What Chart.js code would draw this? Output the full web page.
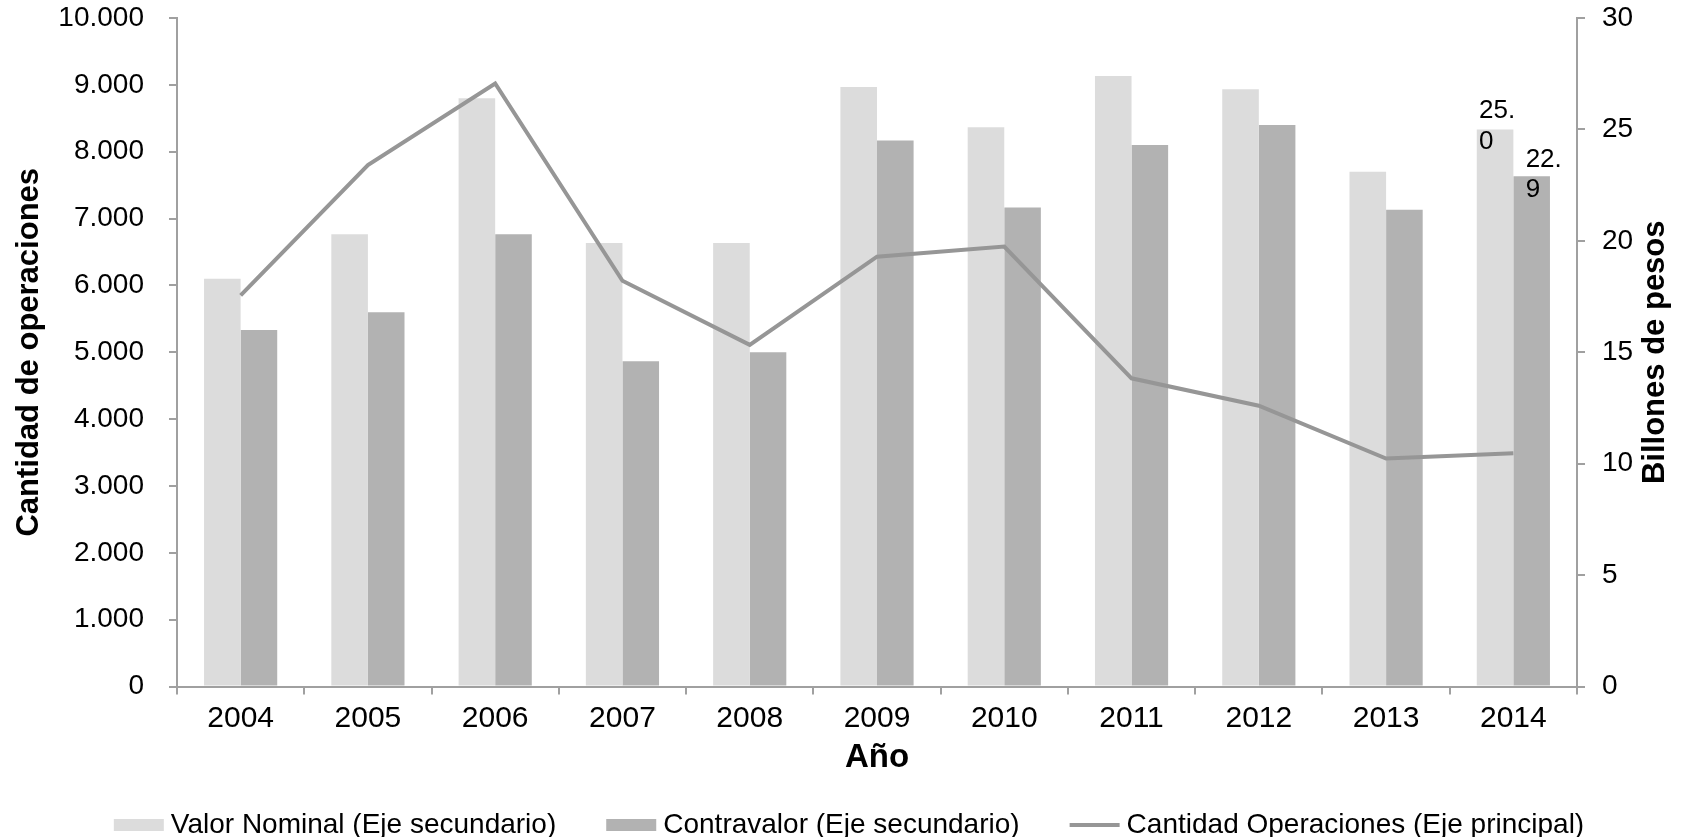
<!DOCTYPE html>
<html lang="es">
<head>
    <meta charset="UTF-8">
    <title>Operaciones por año</title>
    <script src="https://cdn.jsdelivr.net/npm/chart.js"></script>
    <style>
        html, body { margin: 0; padding: 0; background: #fff; }
        #wrap { width: 1692px; height: 837px; position: relative; }
    </style>
</head>
<body>
    <div id="wrap"><canvas id="chart"></canvas></div>

    <script>
        // datos
        const years = ['2004', '2005', '2006', '2007', '2008', '2009', '2010', '2011', '2012', '2013', '2014'];
        const valorNominal = [18.3, 20.3, 26.4, 19.9, 19.9, 26.9, 25.1, 27.4, 26.8, 23.1, 25.0];
        const contravalor = [16.0, 16.8, 20.3, 14.6, 15.0, 24.5, 21.5, 24.3, 25.2, 21.4, 22.9];
        const cantidadOperaciones = [5850, 7800, 9020, 6070, 5110, 6430, 6580, 4610, 4200, 3410, 3490];
        const leftTicks = [0, 1000, 2000, 3000, 4000, 5000, 6000, 7000, 8000, 9000, 10000];
        const rightTicks = [0, 5, 10, 15, 20, 25, 30];

        const FONT = '"Liberation Sans", Arial, sans-serif';
        const AXIS = '#a0a0a0';

        const fmtMiles = v => String(v).replace(/\B(?=(\d{3})+(?!\d))/g, '.');

        // etiquetas de valor (solo 2014, partidas en dos líneas como en el original)
        const valueLabels = {
            id: 'valueLabels',
            afterDatasetsDraw(chart) {
                const ctx = chart.ctx;
                const last = years.length - 1;
                const specs = [
                    { ds: 0, dx: -16, up: -11, down: 20 },
                    { ds: 1, dx: -6, up: -9, down: 21 }
                ];
                ctx.save();
                ctx.font = '26px ' + FONT;
                ctx.fillStyle = '#000';
                ctx.textAlign = 'left';
                ctx.textBaseline = 'alphabetic';
                specs.forEach(s => {
                    const bar = chart.getDatasetMeta(s.ds).data[last];
                    const txt = chart.data.datasets[s.ds].data[last].toFixed(1);
                    const parts = txt.split('.');
                    const x = bar.x + s.dx;
                    ctx.fillText(parts[0] + '.', x, bar.y + s.up);
                    ctx.fillText(parts[1], x, bar.y + s.down);
                });
                ctx.restore();
            }
        };

        // título del eje derecho (leído de abajo hacia arriba) y leyenda inferior
        const extras = {
            id: 'extras',
            afterDraw(chart) {
                const ctx = chart.ctx;
                const area = chart.chartArea;
                ctx.save();
                ctx.translate(1655, (area.top + area.bottom) / 2);
                ctx.rotate(-Math.PI / 2);
                ctx.font = 'bold 31px ' + FONT;
                ctx.fillStyle = '#000';
                ctx.textAlign = 'center';
                ctx.textBaseline = 'middle';
                ctx.fillText('Billones de pesos', 0, 0);
                ctx.restore();

                // leyenda
                ctx.save();
                ctx.font = '28px ' + FONT;
                ctx.textBaseline = 'middle';
                ctx.textAlign = 'left';
                const boxW = 50, gap = 7, itemGap = 50, yc = 825;
                const items = chart.data.datasets.map(ds => ({
                    text: ds.label,
                    color: ds.type === 'line' ? ds.borderColor : ds.backgroundColor,
                    line: ds.type === 'line'
                }));
                let total = 0;
                items.forEach((it, i) => {
                    it.w = boxW + gap + ctx.measureText(it.text).width;
                    total += it.w + (i ? itemGap : 0);
                });
                let x = (chart.width - total) / 2 + 3;
                items.forEach(it => {
                    ctx.fillStyle = it.color;
                    if (it.line) ctx.fillRect(x, yc - 2, boxW, 4);
                    else ctx.fillRect(x, yc - 6, boxW, 12);
                    ctx.fillStyle = '#000';
                    ctx.fillText(it.text, x + boxW + gap, yc);
                    x += it.w + itemGap;
                });
                ctx.restore();
            }
        };

        new Chart(document.getElementById('chart'), {
            data: {
                labels: years,
                datasets: [{
                    type: 'bar',
                    label: 'Valor Nominal (Eje secundario)',
                    data: valorNominal,
                    backgroundColor: '#dcdcdc',
                    yAxisID: 'y1',
                    order: 1,
                    categoryPercentage: 0.575,
                    barPercentage: 1.0
                }, {
                    type: 'bar',
                    label: 'Contravalor (Eje secundario)',
                    data: contravalor,
                    backgroundColor: '#b2b2b2',
                    yAxisID: 'y1',
                    order: 1,
                    categoryPercentage: 0.575,
                    barPercentage: 1.0
                }, {
                    type: 'line',
                    label: 'Cantidad Operaciones (Eje principal)',
                    data: cantidadOperaciones,
                    borderColor: '#969696',
                    backgroundColor: '#969696',
                    borderWidth: 4,
                    pointRadius: 0,
                    tension: 0,
                    yAxisID: 'y',
                    order: 0
                }]
            },
            options: {
                responsive: true,
                maintainAspectRatio: false,
                animation: false,
                layout: { padding: { top: 18, left: 0, right: 0, bottom: 0 } },
                plugins: {
                    legend: { display: false },
                    tooltip: { enabled: false }
                },
                scales: {
                    x: {
                        offset: true,
                        afterFit: s => { s.height = 150.5; },
                        grid: { display: true, drawOnChartArea: false, offset: true, tickLength: 8, color: AXIS, lineWidth: 2 },
                        border: { display: true, color: AXIS, width: 2 },
                        ticks: { color: '#000', font: { family: FONT, size: 30 }, padding: 6, maxRotation: 0 },
                        title: {
                            display: true, text: 'Año', color: '#000',
                            font: { family: FONT, size: 33, weight: 'bold' },
                            padding: { top: 0, bottom: 59 }
                        }
                    },
                    y: {
                        position: 'left',
                        min: 0, max: 10000,
                        afterFit: s => { s.width = 177; s.paddingTop = 0; s.paddingBottom = 0; },
                        afterBuildTicks: s => { s.ticks = leftTicks.map(v => ({ value: v })); },
                        grid: { display: true, drawOnChartArea: false, tickLength: 8, color: AXIS, lineWidth: 2 },
                        border: { display: true, color: AXIS, width: 2 },
                        ticks: { color: '#000', font: { family: FONT, size: 28 }, padding: 25, callback: v => fmtMiles(v) },
                        title: {
                            display: true, text: 'Cantidad de operaciones', color: '#000',
                            font: { family: FONT, size: 31, weight: 'bold' },
                            padding: { top: 11, bottom: 0 }
                        }
                    },
                    y1: {
                        position: 'right',
                        min: 0, max: 30,
                        afterFit: s => { s.width = 115; s.paddingTop = 0; s.paddingBottom = 0; },
                        afterBuildTicks: s => { s.ticks = rightTicks.map(v => ({ value: v })); },
                        grid: { display: true, drawOnChartArea: false, tickLength: 8, color: AXIS, lineWidth: 2 },
                        border: { display: true, color: AXIS, width: 2 },
                        ticks: { color: '#000', font: { family: FONT, size: 28 }, padding: 17 }
                    }
                }
            },
            plugins: [valueLabels, extras]
        });
    </script>
</body>
</html>
